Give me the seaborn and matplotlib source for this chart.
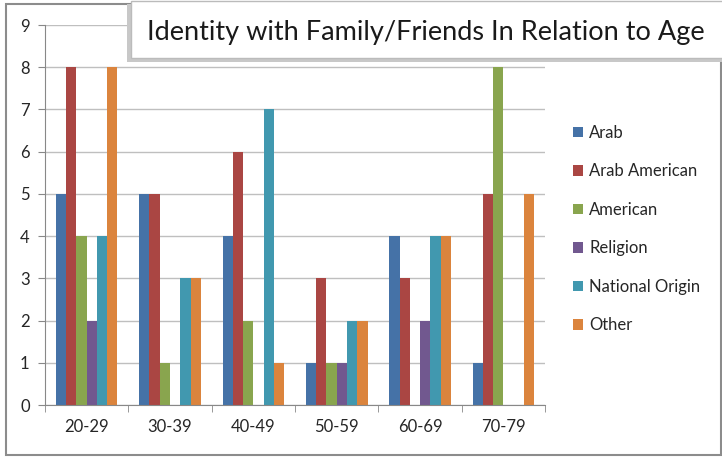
import pandas as pd
import matplotlib
matplotlib.use("Agg")
import matplotlib.pyplot as plt
import seaborn as sns
from matplotlib.patches import Rectangle

# ----------------------------
# Data
# ----------------------------
age_groups = ["20-29", "30-39", "40-49", "50-59", "60-69", "70-79"]
identities = ["Arab", "Arab American", "American", "Religion", "National Origin", "Other"]

arab = [5, 5, 4, 1, 4, 1]
arab_american = [8, 5, 6, 3, 3, 5]
american = [4, 1, 2, 1, 0, 8]
religion = [2, 0, 0, 1, 2, 0]
national_origin = [4, 3, 7, 2, 4, 0]
other = [8, 3, 1, 2, 4, 5]

colors = ["#4572A7", "#AA4643", "#89A54E", "#71588F", "#4198AF", "#DB843D"]

series = [arab, arab_american, american, religion, national_origin, other]
rows = []
for name, vals in zip(identities, series):
    for age, v in zip(age_groups, vals):
        rows.append({"age": age, "identity": name, "count": v})
df = pd.DataFrame(rows)

# ----------------------------
# Plot
# ----------------------------
sns.set_style("white")
plt.rcParams["font.family"] = ["Lato", "DejaVu Sans"]

fig = plt.figure(figsize=(7.22, 4.58), dpi=100)
ax = fig.add_axes([0.0623, 0.1157, 0.6927, 0.8297])

sns.barplot(data=df, x="age", y="count", hue="identity", hue_order=identities,
            order=age_groups, palette=colors, width=0.74, saturation=1,
            edgecolor="none", ax=ax, legend=True)

ax.set_ylim(0, 9)
ax.set_xlim(-0.5, 5.5)
ax.set_yticks(range(10))
ax.yaxis.grid(True, color="#BFBFBF", linewidth=1)
ax.set_axisbelow(True)
ax.set_xlabel("")
ax.set_ylabel("")
for side in ["top", "right"]:
    ax.spines[side].set_visible(False)
for side in ["left", "bottom"]:
    ax.spines[side].set_color("#888888")
ax.tick_params(axis="y", length=5, color="#888888", labelsize=12, pad=6, left=True)
ax.tick_params(axis="x", length=0, labelsize=12, pad=10)
ax.set_xticks([i - 0.5 for i in range(7)], minor=True)
ax.tick_params(axis="x", which="minor", length=5, color="#888888", bottom=True)

leg = ax.legend(loc="center left", bbox_to_anchor=(1.025, 0.463), frameon=False,
                fontsize=12, handlelength=0.6, handleheight=0.6,
                handletextpad=0.4, labelspacing=1.35)

# outer chart border
fig.patches.append(Rectangle((0.008, 0.007), 0.99, 0.985, transform=fig.transFigure,
                             fill=False, edgecolor="#8C8C8C", linewidth=1.5))

# title box with shadow
fig.patches.append(Rectangle((0.176, 0.865), 0.83, 0.127, transform=fig.transFigure,
                             facecolor="#C8C8C8", edgecolor="none"))
fig.patches.append(Rectangle((0.182, 0.873), 0.83, 0.124, transform=fig.transFigure,
                             facecolor="white", edgecolor="#BBBBBB", linewidth=1))
fig.text(0.59, 0.928, "Identity with Family/Friends In Relation to Age",
         ha="center", va="center", fontsize=19.5, color="#1A1A1A")

fig.savefig("out.png", dpi=100)
